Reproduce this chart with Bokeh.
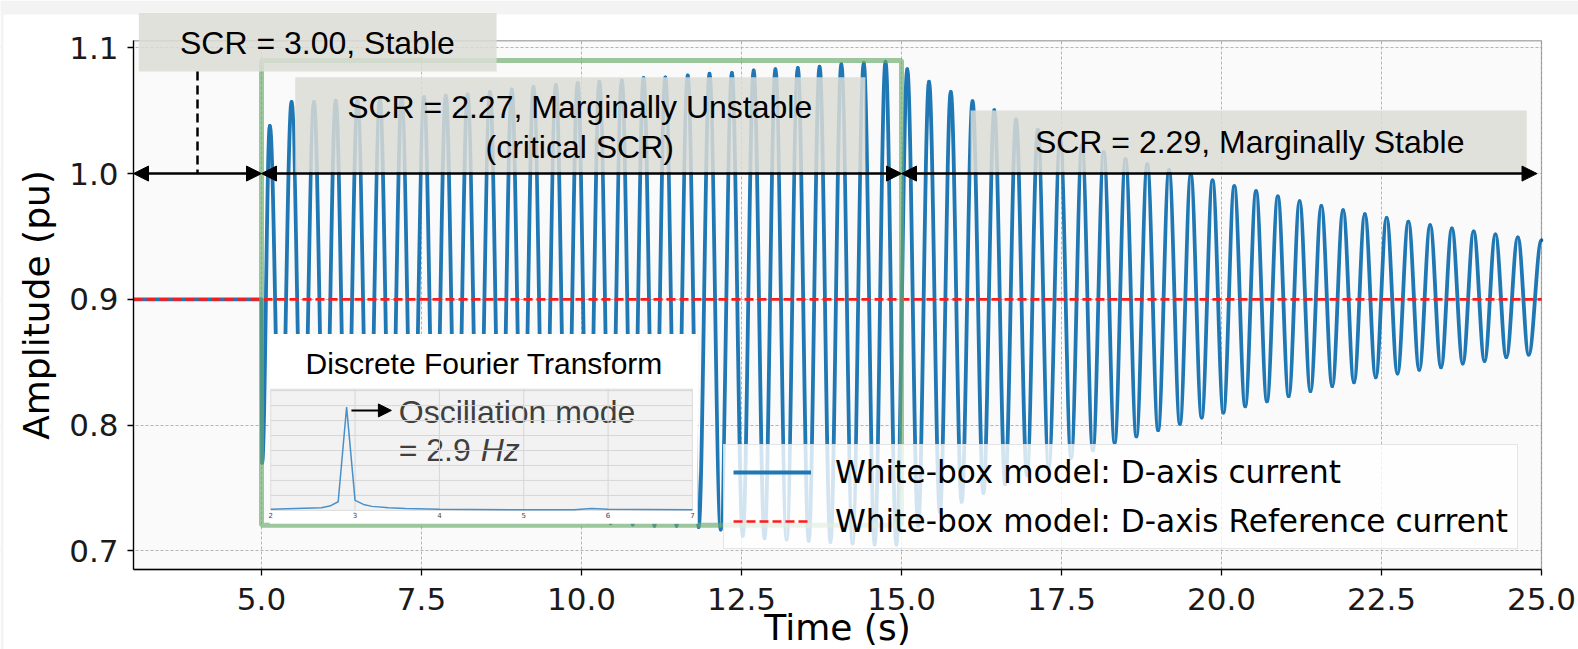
import numpy as np
from bokeh.plotting import figure
from bokeh.models import (Range1d, BoxAnnotation, Label, Arrow, NormalHead, Legend,
                          LegendItem, ColumnDataSource, SingleIntervalTicker,
                          NumeralTickFormatter)
from bokeh.core.properties import value
from bokeh.embed import file_html
from bokeh.resources import INLINE

# ---------------- data ----------------
PRE_T = [3.0, 5.0]
PRE_V = [0.9, 0.9]
REF_T = [3.0, 25.0]
REF_V = [0.9, 0.9]

TROUGH_T = [5.01, 5.30, 5.645, 5.99, 6.33, 6.675, 7.02, 7.365, 7.71, 8.05, 8.395, 8.74,
            9.08, 9.425, 9.77, 10.11, 10.455, 10.80, 11.14, 11.485, 11.83, 12.175, 12.52,
            12.86, 13.205, 13.55, 13.89, 14.235, 14.58, 14.92, 15.26, 15.60, 15.94, 16.28,
            16.62, 16.96, 17.30, 17.65, 17.99, 18.33, 18.67, 19.01, 19.35, 19.69, 20.03,
            20.37, 20.71, 21.05, 21.39, 21.73, 22.07, 22.41, 22.75, 23.09, 23.43, 23.77,
            24.11, 24.45, 24.80]
TROUGH_V = [0.770, 0.748, 0.742, 0.740, 0.739, 0.738, 0.737, 0.736, 0.735, 0.734, 0.732,
            0.730, 0.728, 0.726, 0.725, 0.723, 0.722, 0.721, 0.720, 0.720, 0.719, 0.717,
            0.712, 0.710, 0.709, 0.708, 0.707, 0.706, 0.705, 0.705, 0.720, 0.731, 0.739,
            0.746, 0.753, 0.760, 0.767, 0.774, 0.780, 0.786, 0.791, 0.796, 0.801, 0.806,
            0.810, 0.815, 0.819, 0.823, 0.827, 0.831, 0.834, 0.838, 0.841, 0.844, 0.846,
            0.849, 0.851, 0.854, 0.856]
PEAK_T = [5.13, 5.47, 5.82, 6.16, 6.50, 6.85, 7.19, 7.54, 7.88, 8.22, 8.57, 8.91, 9.25,
          9.60, 9.94, 10.28, 10.63, 10.97, 11.31, 11.66, 12.00, 12.35, 12.69, 13.03, 13.38,
          13.72, 14.06, 14.41, 14.75, 15.09, 15.43, 15.77, 16.11, 16.45, 16.79, 17.13,
          17.48, 17.82, 18.16, 18.50, 18.84, 19.18, 19.52, 19.86, 20.20, 20.54, 20.88,
          21.22, 21.56, 21.90, 22.24, 22.58, 22.92, 23.26, 23.60, 23.94, 24.28, 24.63, 25.00]
PEAK_V = [1.038, 1.057, 1.057, 1.058, 1.058, 1.059, 1.060, 1.061, 1.062, 1.063, 1.065,
          1.067, 1.069, 1.0705, 1.072, 1.073, 1.074, 1.076, 1.0765, 1.078, 1.0795, 1.080,
          1.082, 1.083, 1.084, 1.085, 1.087, 1.088, 1.089, 1.083, 1.073, 1.065, 1.0575,
          1.0505, 1.043, 1.035, 1.028, 1.0225, 1.017, 1.0115, 1.0075, 1.003, 0.9992,
          0.9945, 0.990, 0.986, 0.9818, 0.978, 0.9742, 0.971, 0.9678, 0.9648, 0.9618,
          0.959, 0.9564, 0.954, 0.9516, 0.9493, 0.947]

DFT_F = [2.0, 2.6, 2.7, 2.8, 2.9, 3.0, 3.1, 3.2, 3.4, 3.6, 4.0, 5.0, 5.6, 5.8, 6.0, 7.0]
DFT_MAG = [0.010, 0.026, 0.042, 0.084, 1.0, 0.097, 0.058, 0.039, 0.026, 0.019, 0.010,
           0.006, 0.006, 0.019, 0.010, 0.006]
INSET_XTICKS = [2, 3, 4, 5, 6, 7]
INSET_GRID_F = [3, 4, 5, 6]
INSET_GRID_M = [0.145, 0.29, 0.435, 0.58, 0.725, 0.87, 1.015, 1.16]

SERIES = ["White-box model: D-axis current", "White-box model: D-axis Reference current"]

# ---------------- layout constants ----------------
W, H = 1578, 649
LEFT_PX = 133                      # axes box left edge (px)
PX_PER_S = 64.0                    # horizontal scale
PX_PER_PU = 1257.75                # vertical scale
AX_X0, AX_X1 = 3.0, 25.0           # drawn axes box (time)
AX_Y0, AX_Y1 = 0.6852, 1.1056      # drawn axes box (amplitude)
VIEW_X0 = AX_X0 - LEFT_PX / PX_PER_S
VIEW_X1 = AX_X0 + (W - LEFT_PX) / PX_PER_S
VIEW_Y1 = 0.7 + 550.4 / PX_PER_PU
VIEW_Y0 = 0.7 - (H - 550.4) / PX_PER_PU
STRIP_Y = 0.7 + (550.4 - 14) / PX_PER_PU
STRIP_X = VIEW_X0 + 3 / PX_PER_S
INSET_L, INSET_R, INSET_B, INSET_T = 5.144, 11.733, 0.7322, 0.8286
F0, F1, M0, M1 = 2.0, 7.0, 0.0, 1.174

BLUE = "#1f77b4"
ANN_FONT = "Liberation Sans"
MPL_FONT = "DejaVu Sans"
PAGE_GRAY = "#f3f3f3"

p = figure(width=W, height=H, x_range=Range1d(VIEW_X0, VIEW_X1),
           y_range=Range1d(VIEW_Y0, VIEW_Y1), output_backend="svg", toolbar_location=None,
           min_border_left=0, min_border_right=0, min_border_top=0, min_border_bottom=0,
           background_fill_color="white", border_fill_color="white")
p.outline_line_color = None

fs = F0 + (VIEW_X0 - INSET_L) * (F1 - F0) / (INSET_R - INSET_L)
fe = F0 + (VIEW_X1 - INSET_L) * (F1 - F0) / (INSET_R - INSET_L)
ms = M0 + (VIEW_Y0 - INSET_B) * (M1 - M0) / (INSET_T - INSET_B)
me = M0 + (VIEW_Y1 - INSET_B) * (M1 - M0) / (INSET_T - INSET_B)
p.extra_x_ranges = {"freq": Range1d(fs, fe)}
p.extra_y_ranges = {"mag": Range1d(ms, me)}

# axes area background
p.add_layout(BoxAnnotation(left=AX_X0, right=AX_X1, bottom=AX_Y0, top=AX_Y1,
                           fill_color="#f3f3f3", line_color=None, level="image"))

p.xaxis.axis_label = "Time (s)"
p.yaxis.axis_label = "Amplitude (pu)"
p.xaxis.ticker = SingleIntervalTicker(interval=2.5, num_minor_ticks=0)
p.yaxis.ticker = SingleIntervalTicker(interval=0.1, num_minor_ticks=0)
p.xaxis.fixed_location = AX_Y0
p.yaxis.fixed_location = AX_X0
p.xaxis.bounds = (AX_X0, AX_X1)
p.yaxis.bounds = (AX_Y0, AX_Y1)
for ax in (p.xaxis[0], p.yaxis[0]):
    ax.formatter = NumeralTickFormatter(format="0.0")
    ax.axis_label_text_font = MPL_FONT
    ax.axis_label_text_font_size = "36px"
    ax.axis_label_text_font_style = "normal"
    ax.axis_label_text_color = "black"
    ax.major_label_text_font = MPL_FONT
    ax.major_label_text_font_size = "31px"
    ax.major_label_text_color = "#1a1a1a"
    ax.major_tick_out = 6
    ax.major_tick_in = 0
    ax.major_tick_line_color = "black"
    ax.major_tick_line_width = 1.3
    ax.minor_tick_line_color = None
    ax.axis_line_color = "black"
    ax.axis_line_width = 1.3
p.xaxis.major_label_standoff = 12
p.xaxis.axis_label_standoff = -6
p.yaxis.major_label_standoff = 9
p.yaxis.axis_label_standoff = 9

p.grid.grid_line_color = "#b4b4b4"
p.grid.grid_line_dash = "3 2"
p.grid.grid_line_width = 1

# white surroundings of the axes box, then the grey page strips
for kw in (dict(bottom=AX_Y1), dict(top=AX_Y0), dict(left=AX_X1), dict(right=AX_X0)):
    p.add_layout(BoxAnnotation(fill_color="white", fill_alpha=1.0, line_color=None,
                               level="underlay", **kw))
p.add_layout(BoxAnnotation(bottom=STRIP_Y, fill_color=PAGE_GRAY, fill_alpha=1.0,
                           line_color=None, level="underlay"))
p.add_layout(BoxAnnotation(right=STRIP_X, fill_color=PAGE_GRAY, fill_alpha=1.0,
                           line_color=None, level="underlay"))
p.add_layout(BoxAnnotation(left=AX_X0, right=AX_X1, bottom=AX_Y0, top=AX_Y1,
                           fill_color=None, line_color="black", line_width=1.3,
                           level="guide"))

# ---------------- signal ----------------
pre_r = p.line(PRE_T, PRE_V, line_color=BLUE, line_width=3.8)

xs = [PRE_T[-1]]
ys = [PRE_V[-1]]
for tt, tv, pt, pv in zip(TROUGH_T, TROUGH_V, PEAK_T, PEAK_V):
    xs += [tt, pt]
    ys += [tv, pv]
xs = np.array(xs)
ys = np.array(ys)
K = 0.3642
sx0, sx1 = xs[:-1], xs[1:]
sy0, sy1 = ys[:-1], ys[1:]
seg = ColumnDataSource(dict(x0=sx0, y0=sy0, x1=sx1, y1=sy1,
                            cx0=sx0 + K * (sx1 - sx0), cy0=sy0,
                            cx1=sx1 - K * (sx1 - sx0), cy1=sy1))
p.bezier(x0="x0", y0="y0", x1="x1", y1="y1", cx0="cx0", cy0="cy0", cx1="cx1", cy1="cy1",
         source=seg, line_color=BLUE, line_width=3.8, line_cap="round")

ref_r = p.line(REF_T, REF_V, line_color="#ff1a1a", line_width=2.6, line_dash="9 4")

# ---------------- annotations ----------------
p.add_layout(BoxAnnotation(left=5.0, right=15.0, bottom=0.7203, top=1.0899,
                           fill_color=None, line_color="#6aaa6a", line_alpha=0.65,
                           line_width=5))

BOX_FILL = "#dcdcd6"
for (l, r, b, t) in [(3.083, 8.673, 1.0812, 1.1277),
                     (5.527, 14.436, 1.001, 1.0765),
                     (16.08, 24.77, 1.001, 1.0502)]:
    p.add_layout(BoxAnnotation(left=l, right=r, bottom=b, top=t, fill_color=BOX_FILL,
                               fill_alpha=0.85, line_color=None))

def ann(x, y, text, size="32px", color="black", style="normal", align="center",
        xr="default", yr="default"):
    p.add_layout(Label(x=x, y=y, text=text, text_font=ANN_FONT, text_font_size=size,
                       text_color=color, text_font_style=style, text_align=align,
                       text_baseline="middle", x_range_name=xr, y_range_name=yr))

ann(5.873, 1.1038, "SCR = 3.00, Stable")
ann(9.972, 1.0533, "SCR = 2.27, Marginally Unstable")
ann(9.972, 1.0215, "(critical SCR)")
ann(20.44, 1.0255, "SCR = 2.29, Marginally Stable")

def head():
    return NormalHead(size=15, fill_color="black", line_color="black", line_width=1)

for (a, b) in [(3.0, 5.0), (5.0, 15.0), (15.0, 24.93)]:
    p.add_layout(Arrow(start=head(), end=head(), x_start=a, y_start=1.0, x_end=b, y_end=1.0,
                       line_color="black", line_width=2.5))
p.add_layout(Arrow(start=None, end=None, x_start=4.0, y_start=1.0812, x_end=4.0, y_end=1.0,
                   line_color="black", line_width=2.5, line_dash="9 5"))

# ---------------- inset (DFT) ----------------
p.add_layout(BoxAnnotation(left=5.128, right=11.816, bottom=0.7215, top=0.8725,
                           fill_color="white", fill_alpha=1.0, line_color=None))
p.add_layout(BoxAnnotation(left=F0, right=F1, bottom=M0, top=M1, x_range_name="freq",
                           y_range_name="mag", fill_color="#f2f2f2", fill_alpha=1.0,
                           line_color="#9a9a9a", line_width=1))
p.segment(x0=INSET_GRID_F, y0=[M0] * len(INSET_GRID_F), x1=INSET_GRID_F,
          y1=[M1] * len(INSET_GRID_F), x_range_name="freq", y_range_name="mag",
          line_color="#d6d6d6", line_width=1, level="overlay")
p.segment(x0=[F0] * len(INSET_GRID_M), y0=INSET_GRID_M, x1=[F1] * len(INSET_GRID_M),
          y1=INSET_GRID_M, x_range_name="freq", y_range_name="mag",
          line_color="#d6d6d6", line_width=1, level="overlay")
p.line(DFT_F, DFT_MAG, x_range_name="freq", y_range_name="mag", line_color="#4a90c8",
       line_width=1.5, level="overlay")
p.text(x=INSET_XTICKS, y=[M0] * len(INSET_XTICKS), text=[str(v) for v in INSET_XTICKS],
       x_range_name="freq", y_range_name="mag", text_font=value(MPL_FONT),
       text_font_size="7px", text_color="#444444", text_align="center",
       text_baseline="top", y_offset=2, level="overlay")

ann(8.48, 0.8488, "Discrete Fourier Transform", size="30px")
p.add_layout(Arrow(end=NormalHead(size=13, fill_color="black", line_color="black"),
                   start=None, x_start=2.957, y_start=0.968, x_end=3.431, y_end=0.968,
                   x_range_name="freq", y_range_name="mag", line_color="black",
                   line_width=2, level="overlay"))
ann(3.518, 0.952, "Oscillation mode", color="#3f3f3f", align="left", xr="freq", yr="mag")
ann(3.518, 0.581, "= 2.9", color="#3f3f3f", align="left", xr="freq", yr="mag")
ann(4.49, 0.581, "Hz", color="#3f3f3f", align="left", style="italic", xr="freq", yr="mag")

# ---------------- legend ----------------
legend = Legend(items=[LegendItem(label=SERIES[0], renderers=[pre_r]),
                       LegendItem(label=SERIES[1], renderers=[ref_r])],
                location=(LEFT_PX + 590, 100), label_text_font=MPL_FONT,
                label_text_font_size="31.2px",
                label_text_color="black", glyph_width=78, glyph_height=36, label_height=36,
                label_standoff=24, spacing=13, padding=9, margin=0,
                border_line_color="#cccccc", border_line_width=1,
                background_fill_color="white", background_fill_alpha=0.8)
p.add_layout(legend)

open("out.html", "w").write(file_html(p, INLINE))
